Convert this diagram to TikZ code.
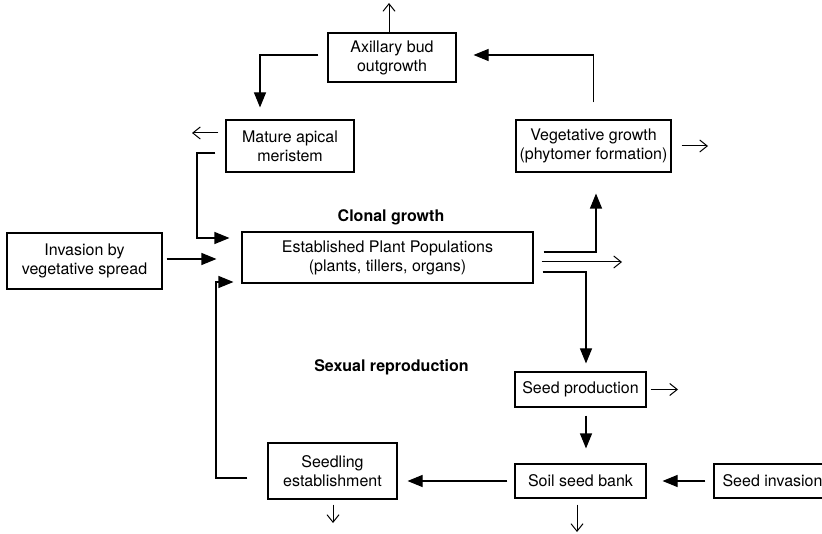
\documentclass[tikz,border=0pt]{standalone}
\usepackage{fontspec}
\setmainfont{TeX Gyre Heros}
\usetikzlibrary{arrows.meta,calc}
\begin{document}
\begin{tikzpicture}[x=1pt,y=-1pt,
  box/.style={draw,line width=1.1pt,inner sep=0pt,align=center,font=\fontsize{16}{19}\selectfont},
  lbl/.style={font=\fontsize{16}{19}\selectfont\bfseries},
  big/.style={line width=1.1pt,-{Triangle[length=15pt,width=12pt]}},
  thin/.style={line width=1pt,-{Straight Barb[length=7.5pt,width=12pt]}}]
\useasboundingbox (0,0) rectangle (822,534);
\clip (0,0) rectangle (822,534);
% boxes
\node[box,minimum width=128pt,minimum height=49pt] (ax) at (392,57.5) {Axillary bud\\outgrowth};
\node[box,minimum width=128pt,minimum height=52pt] (ma) at (290,146) {Mature apical\\meristem};
\node[box,minimum width=155pt,minimum height=52pt] (veg) at (593.5,146) {Vegetative growth\\(phytomer formation)};
\node[box,minimum width=291pt,minimum height=51pt] (est) at (387.5,257.5) {Established Plant Populations\\(plants, tillers, organs)};
\node[box,minimum width=155pt,minimum height=56pt] (inv) at (84.5,261) {Invasion by\\vegetative spread};
\node[box,minimum width=129pt,minimum height=56pt] (seed) at (332.5,471) {Seedling\\establishment};
\node[box,minimum width=131pt,minimum height=35pt] (sp) at (580.5,389.5) {Seed production};
\node[box,minimum width=131pt,minimum height=34pt] (ssb) at (580.5,481) {Soil seed bank};
\node[box,minimum width=117pt,minimum height=34pt] (si) at (772.5,481) {Seed invasion};
% labels
\node[lbl] (clonal) at (391,217) {Clonal growth};
\node[lbl] (sexual) at (391.5,367) {Sexual reproduction};
% free ends and bends
\coordinate (axup) at (389,3);
\coordinate (maleft) at (192,133);
\coordinate (b1) at (197,153);
\coordinate (b2) at (197,238);
\coordinate (b3) at (216,478);
\coordinate (b4) at (216,282);
\coordinate (seeddown) at (333,523);
\coordinate (ssbdown) at (577,532);
\coordinate (spright) at (678,389.5);
\coordinate (estright) at (622,262);
\coordinate (vegright) at (708,146);
% connectors
\draw[thin] ([xshift=-3pt]ax.north) -- (axup);
\draw[big] ([shift={(-9pt,2.5pt)}]ax.west) -| ([shift={(-30pt,12pt)}]ma.north);
\draw[thin] ([shift={(-7pt,13pt)}]ma.west) -- (maleft);
\draw[big] ([shift={(-10pt,-7pt)}]ma.west) -- (b1) -- (b2) -- ([shift={(-12pt,19.5pt)}]est.west);
\draw[big] ([shift={(4pt,2pt)}]inv.east) -- ([shift={(-25pt,-1.5pt)}]est.west);
\draw[big] ([shift={(-20pt,-7pt)}]seed.west) -- (b3) -- (b4) -- ([shift={(-8pt,-24.5pt)}]est.west);
\draw[big] ([xshift=-7pt]ssb.west) -- ($(seed.east |- ssb.west)+(10,0)$);
\draw[thin] ([shift={(0.5pt,-5pt)}]seed.south) -- (seeddown);
\draw[thin] ([shift={(-3.5pt,-6pt)}]ssb.south) -- (ssbdown);
\draw[big] ([shift={(5.5pt,-8pt)}]sp.south) -- ([shift={(5.5pt,15pt)}]ssb.north);
\draw[thin] ([xshift=4pt]sp.east) -- (spright);
\draw[big] ([xshift=-8pt]si.west) -- ([xshift=16pt]ssb.east);
\draw[big] ([shift={(9pt,-14.5pt)}]est.east) -| ([shift={(5.5pt,8pt)}]sp.north);
\draw[thin] ([shift={(8pt,-4.5pt)}]est.east) -- (estright);
\draw[big] ([shift={(10pt,5.5pt)}]est.east) -| ([shift={(2.5pt,-21pt)}]veg.south);
\draw[thin] ([xshift=10pt]veg.east) -- (vegright);
\draw[big] ([yshift=17pt]veg.north) |- ([shift={(17pt,2.5pt)}]ax.east);
\end{tikzpicture}
\end{document}
